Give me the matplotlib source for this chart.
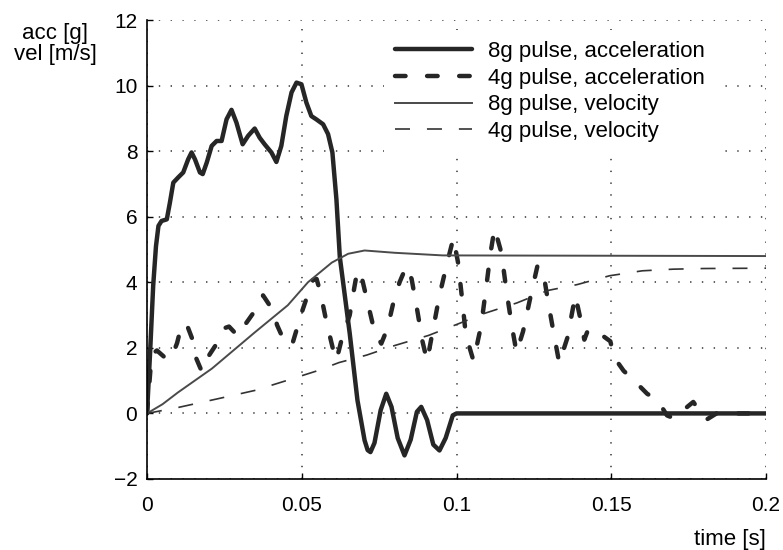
import matplotlib
matplotlib.use("Agg")
import matplotlib.pyplot as plt

plt.rcParams['font.family'] = ['Liberation Sans', 'DejaVu Sans']
plt.rcParams['lines.scale_dashes'] = False

# 8g pulse, acceleration [g]
t_acc8 = [0, 0.0010, 0.0020, 0.0029, 0.0037, 0.0047, 0.0064, 0.0074, 0.0085, 0.0101,
          0.0117, 0.0133, 0.0144, 0.0155, 0.0171, 0.0180, 0.0193, 0.0209, 0.0225, 0.0241,
          0.0257, 0.0273, 0.0289, 0.0309, 0.0327, 0.0348, 0.0364, 0.0380, 0.0402, 0.0418,
          0.0434, 0.0450, 0.0467, 0.0483, 0.0499, 0.0515, 0.0531, 0.0547, 0.0569, 0.0585,
          0.0599, 0.0612, 0.0623, 0.0655, 0.0680, 0.0703, 0.0713, 0.0722, 0.0735, 0.0755,
          0.0773, 0.0790, 0.0810, 0.0832, 0.0852, 0.0872, 0.0886, 0.0905, 0.0925, 0.0945,
          0.0965, 0.0988, 0.1000, 0.2000]
acc8 = [0, 1.86, 3.9, 5.1, 5.72, 5.87, 5.92, 6.43, 7.04, 7.2,
        7.35, 7.75, 7.96, 7.75, 7.35, 7.3, 7.65, 8.16, 8.31, 8.31,
        8.97, 9.26, 8.87, 8.21, 8.47, 8.69, 8.41, 8.21, 7.96, 7.67,
        8.16, 9.07, 9.79, 10.09, 10.04, 9.48, 9.07, 8.97, 8.82, 8.52,
        7.96, 6.53, 4.77, 2.44, 0.4, -0.82, -1.12, -1.18, -0.9, 0.1,
        0.6, 0.2, -0.75, -1.28, -0.8, 0.05, 0.2, -0.2, -0.95, -1.13,
        -0.75, -0.06, 0, 0]

# 4g pulse, acceleration [g]
t_acc4 = [0, 0.0015, 0.0032, 0.0068, 0.0085, 0.0097, 0.0110, 0.0118, 0.0129, 0.0148,
          0.0155, 0.0177, 0.0190, 0.0226, 0.0250, 0.0265, 0.0290, 0.0300, 0.0320, 0.0350,
          0.0375, 0.0410, 0.0420, 0.0445, 0.0455, 0.0470, 0.0500, 0.0535, 0.0548, 0.0560,
          0.0570, 0.0580, 0.0600, 0.0612, 0.0630, 0.0655, 0.0670, 0.0680, 0.0695, 0.0715,
          0.0735, 0.0757, 0.0777, 0.0794, 0.0816, 0.0838, 0.0855, 0.0874, 0.0890, 0.0905,
          0.0925, 0.0945, 0.0970, 0.0990, 0.1005, 0.1018, 0.1030, 0.1055, 0.1080, 0.1098,
          0.1110, 0.1123, 0.1145, 0.1162, 0.1180, 0.1194, 0.1215, 0.1240, 0.1262, 0.1284,
          0.1296, 0.1315, 0.1332, 0.1358, 0.1384, 0.1400, 0.1413, 0.1425, 0.1445, 0.1465,
          0.1497, 0.1510, 0.1540, 0.1574, 0.1616, 0.1650, 0.1680, 0.1703, 0.1726, 0.1765,
          0.1806, 0.1840, 0.2000]
acc4 = [0, 1.8, 1.92, 1.62, 1.85, 2.14, 2.63, 2.75, 2.7, 2.23,
        1.77, 1.28, 1.62, 2.14, 2.6, 2.65, 2.4, 2.38, 2.75, 3.15,
        3.6, 3.1, 2.7, 2.17, 2.07, 2.13, 3.08, 4.06, 4.1, 3.7,
        3.24, 2.78, 2.0, 1.62, 2.3, 3.0, 3.85, 4.37, 4.1, 3.3,
        2.5, 2.13, 2.6, 3.3, 4.0, 4.49, 4.1, 3.1, 2.2, 1.6,
        2.6, 3.6, 4.6, 5.35, 4.6, 3.5, 2.4, 1.6, 2.7, 4.0,
        4.9, 5.65, 4.9, 3.7, 2.6, 1.86, 2.5, 3.6, 4.52, 4.1,
        3.4, 2.4, 1.54, 2.3, 3.6, 2.9, 2.25, 2.55, 2.4, 2.42,
        2.2, 1.7, 1.3, 1.0, 0.6, 0.4, -0.06, -0.15, 0.05, 0.35,
        -0.2, 0, 0]

# 8g pulse, velocity [m/s]
t_vel8 = [0, 0.005, 0.010, 0.021, 0.0348, 0.0455, 0.052, 0.0597, 0.065, 0.0703,
          0.080, 0.0955, 0.2]
vel8 = [0, 0.28, 0.64, 1.37, 2.47, 3.3, 4.0, 4.6, 4.87, 4.97,
        4.9, 4.82, 4.8]

# 4g pulse, velocity [m/s]
t_vel4 = [0, 0.010, 0.023, 0.0348, 0.045, 0.055, 0.062, 0.071, 0.080, 0.091,
          0.1005, 0.109, 0.1195, 0.1295, 0.139, 0.1495, 0.160, 0.170, 0.180, 0.200]
vel4 = [0, 0.18, 0.45, 0.7, 1.0, 1.3, 1.55, 1.78, 2.07, 2.38,
        2.73, 3.05, 3.37, 3.75, 3.93, 4.2, 4.35, 4.4, 4.42, 4.43]

xticks = [0, 0.05, 0.1, 0.15, 0.2]
xticklabels = ['0', '0.05', '0.1', '0.15', '0.2']
yticks = [-2, 0, 2, 4, 6, 8, 10, 12]

fig = plt.figure(figsize=(7.83, 5.50), dpi=100)
ax = fig.add_axes([147 / 783, 71 / 550, 619 / 783, 459 / 550])

ax.plot(t_acc8, acc8, color='#262626', lw=3.2, solid_capstyle='round',
        solid_joinstyle='round', label='8g pulse, acceleration')
ax.plot(t_acc4, acc4, color='#262626', lw=3.2, dashes=(7.6, 15.5),
        dash_capstyle='round', dash_joinstyle='round', label='4g pulse, acceleration')
ax.plot(t_vel8, vel8, color='#4a4a4a', lw=1.4, label='8g pulse, velocity')
ax.plot(t_vel4, vel4, color='#333333', lw=1.2, dashes=(10.8, 12.2),
        label='4g pulse, velocity')

ax.set_xlim(0, 0.2)
ax.set_ylim(-2, 12)
ax.set_xticks(xticks)
ax.set_xticklabels(xticklabels)
ax.set_yticks(yticks)
ax.tick_params(direction='in', length=4, width=1, labelsize=15)
ax.tick_params(axis='x', pad=12)
ax.tick_params(axis='y', pad=7)
ax.grid(True, color='#333333', lw=1.1, linestyle=(0, (1, 7.5)))
for side in ['top', 'right']:
    ax.spines[side].set_visible(False)
for side in ['left', 'bottom']:
    ax.spines[side].set_linewidth(1.2)

leg = ax.legend(loc='upper left', bbox_to_anchor=(0.383, 0.978), borderaxespad=0,
                fontsize=16, frameon=True, fancybox=False, edgecolor='none',
                framealpha=1, handlelength=3.46, handletextpad=0.72,
                labelspacing=0.25, borderpad=0.5)

fig.text(55 / 783, 1 - 44 / 550, 'acc [g]\nvel [m/s]', ha='center', va='center',
         fontsize=16, linespacing=1.0)
fig.text(730 / 783, 1 - 539 / 550, 'time [s]', ha='center', va='center', fontsize=16)

fig.savefig('out.png', dpi=100)
